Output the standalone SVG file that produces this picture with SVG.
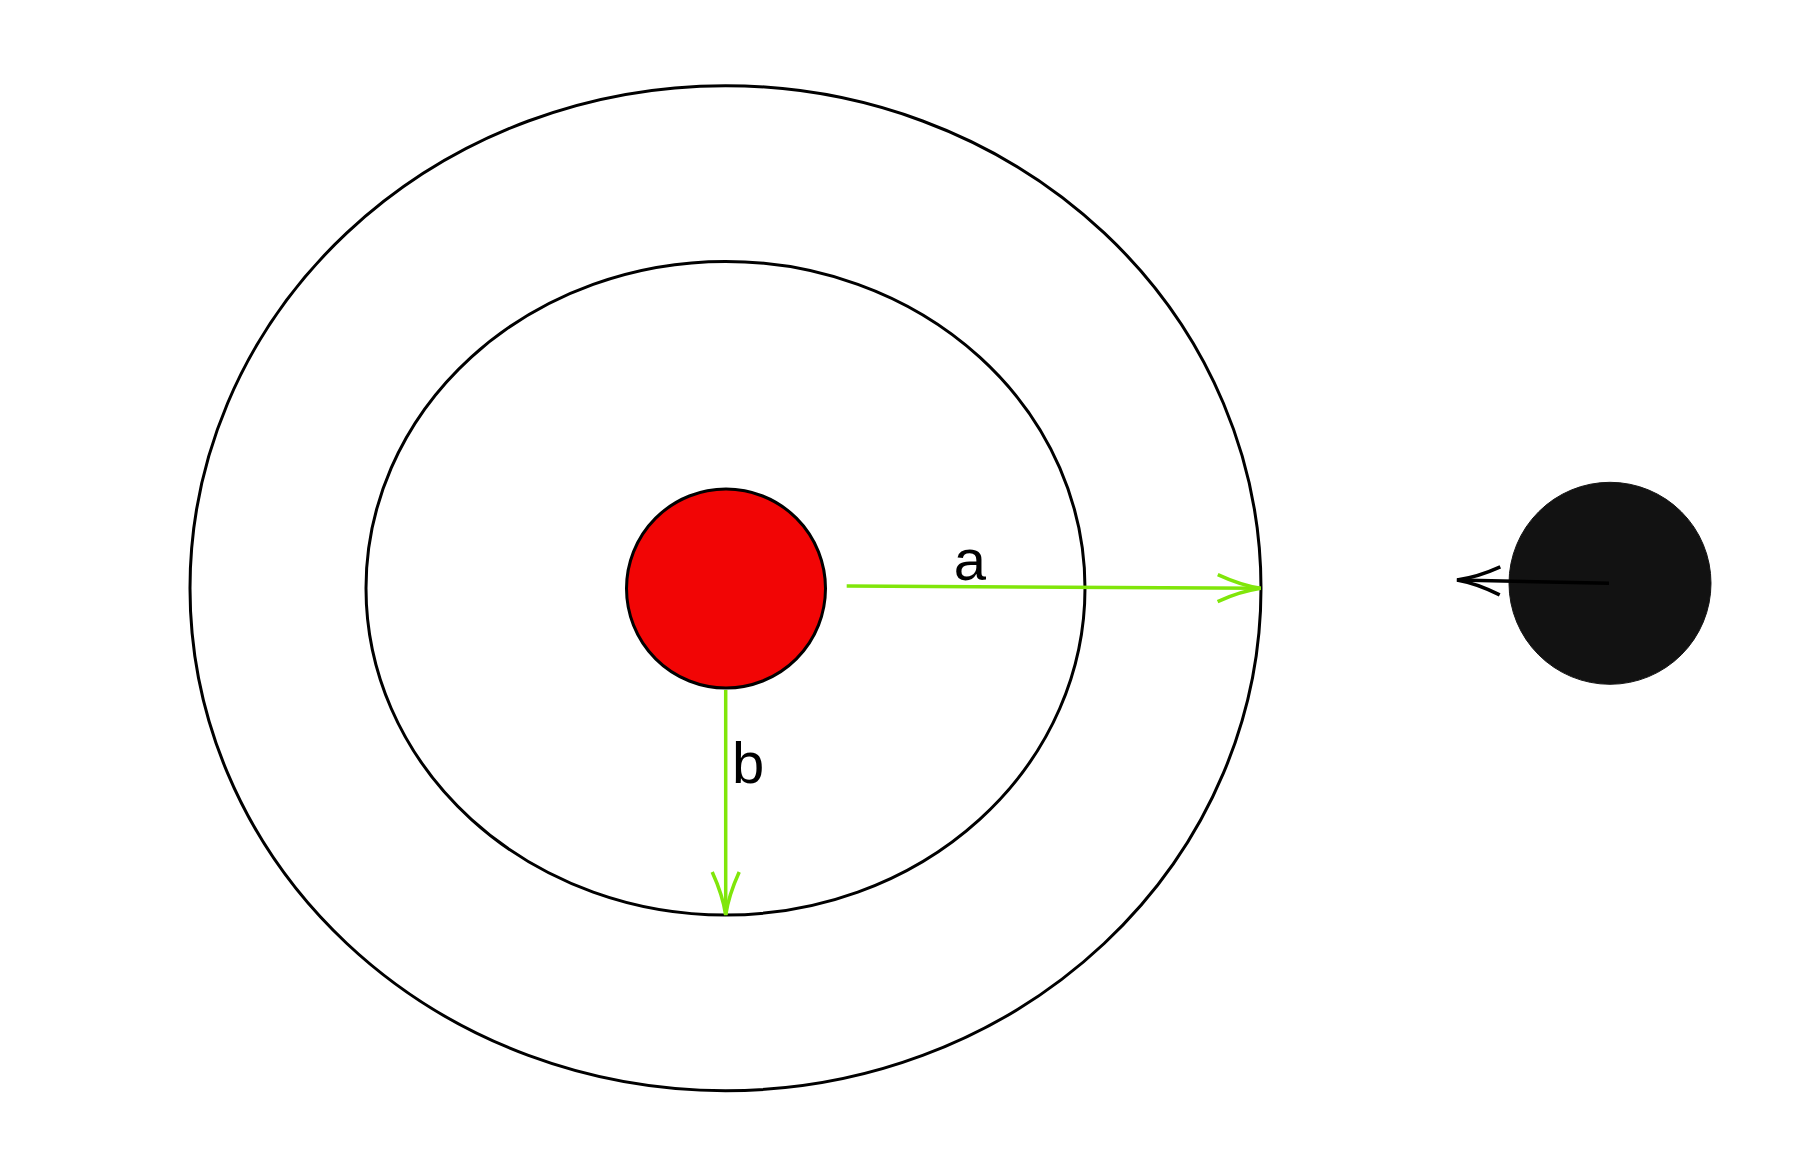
<svg xmlns="http://www.w3.org/2000/svg" width="1813" height="1161" viewBox="0 0 1813 1161">
<style>
.ring{fill:none;stroke:#000;stroke-width:3}
.green{stroke:#80e60a;stroke-width:3.5;fill:none}
.black{stroke:#000;stroke-width:3.5;fill:none}
.lbl{font-family:"Liberation Sans",Arial,sans-serif;font-size:58px;fill:#000}
</style>
<defs>
<marker id="arrG" markerUnits="userSpaceOnUse" orient="auto" refX="0" refY="0" markerWidth="60" markerHeight="40" overflow="visible">
<path d="M-43,-13.5 Q-20,-3 0,0 Q-20,3 -43,13.5" fill="none" stroke="#80e60a" stroke-width="3.5"/>
</marker>
<marker id="arrK" markerUnits="userSpaceOnUse" orient="auto" refX="0" refY="0" markerWidth="60" markerHeight="40" overflow="visible">
<path d="M-43,-14 Q-20,-3 0,0 Q-20,3 -43,14" fill="none" stroke="#000" stroke-width="3.5"/>
</marker>
</defs>
<rect width="1813" height="1161" fill="#fff"/>
<g id="outer-orbit"><ellipse class="ring" cx="725.5" cy="588.2" rx="535.5" ry="502.5"/></g>
<g id="inner-orbit"><ellipse class="ring" cx="725.5" cy="588.2" rx="359.5" ry="326.8"/></g>
<g id="red-body"><circle cx="726" cy="588.5" r="99.5" fill="#f20505" stroke="#000" stroke-width="3"/></g>
<g id="black-body"><circle cx="1610" cy="583.3" r="101" fill="#121212" stroke="#161616" stroke-width="1"/></g>
<g id="connectors">
<line class="green" x1="846.7" y1="586" x2="1260.7" y2="588.3" marker-end="url(#arrG)"/>
<line class="green" x1="725.7" y1="690" x2="725.7" y2="915" marker-end="url(#arrG)"/>
<line class="black" x1="1609" y1="583.3" x2="1457" y2="580" marker-end="url(#arrK)"/>
</g>
<g id="labels">
<text class="lbl" x="970" y="580" text-anchor="middle">a</text>
<text class="lbl" x="732" y="783">b</text>
</g>
</svg>
